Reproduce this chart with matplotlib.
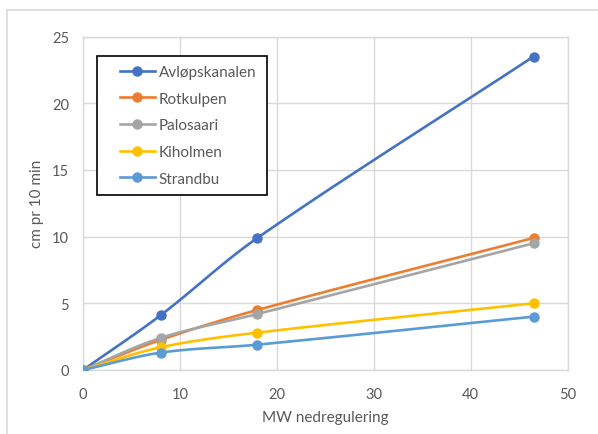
import numpy as np
import matplotlib
matplotlib.use("Agg")
from matplotlib import pyplot as plt
from matplotlib.lines import Line2D
from matplotlib.legend_handler import HandlerLine2D

# data
mw = [0, 8, 18, 46.5]
avlopskanalen = [0, 4.1, 9.9, 23.5]
rotkulpen = [0, 2.25, 4.5, 9.9]
palosaari = [0, 2.4, 4.2, 9.5]
kiholmen = [0, 1.7, 2.8, 5.0]
strandbu = [0, 1.3, 1.9, 4.0]

names = ['Avløpskanalen', 'Rotkulpen', 'Palosaari', 'Kiholmen', 'Strandbu']
series = [avlopskanalen, rotkulpen, palosaari, kiholmen, strandbu]
colors = ['#4472C4', '#ED7D31', '#A5A5A5', '#FFC000', '#5B9BD5']


def smooth(x, y, n=40, kx=9.7, ky=13.36):
    # bezier through the points, tangents from neighbours, done in pixel-ish units
    P = np.column_stack([np.asarray(x, float) * kx, np.asarray(y, float) * ky])
    m = len(P)
    T = np.zeros_like(P)
    for i in range(m):
        a = P[max(i - 1, 0)]
        b = P[min(i + 1, m - 1)]
        d = b - a
        T[i] = d / np.hypot(*d)
    t = np.linspace(0, 1, n)[:, None]
    out = []
    for i in range(m - 1):
        p0, p3 = P[i], P[i + 1]
        L = np.hypot(*(p3 - p0)) / 3
        p1 = p0 + T[i] * L
        p2 = p3 - T[i + 1] * L
        b = (1 - t) ** 3 * p0 + 3 * (1 - t) ** 2 * t * p1 + 3 * (1 - t) * t ** 2 * p2 + t ** 3 * p3
        out.append(b)
    out = np.vstack(out)
    return out[:, 0] / kx, out[:, 1] / ky


class ShiftedLine(HandlerLine2D):
    # push the legend sample to the right inside its slot
    shift = 10.0

    def create_artists(self, legend, orig_handle, xdescent, ydescent, width, height, fontsize, trans):
        return super().create_artists(legend, orig_handle, xdescent - self.shift, ydescent,
                                      width - self.shift, height, fontsize, trans)


plt.rcParams['font.family'] = ['Lato', 'DejaVu Sans']
txt = '#595959'
grid = '#D9D9D9'

fig = plt.figure(figsize=(5.98, 4.35), dpi=100)
ax = fig.add_axes([83 / 598, 1 - 371 / 435, (567.5 - 83) / 598, (371 - 37.5) / 435])

for name, vals, c in zip(names, series, colors):
    sx, sy = smooth(mw, vals)
    ax.plot(sx, sy, color=c, lw=1.9, solid_capstyle='round', zorder=3)
    ax.plot(mw, vals, 'o', color=c, ms=6.5, zorder=4)

ax.set_xlim(0, 50)
ax.set_ylim(0, 25)
ax.set_xticks(np.arange(0, 51, 10))
ax.set_yticks(np.arange(0, 26, 5))
ax.grid(True, color=grid, lw=1)
ax.set_axisbelow(True)
for s in ax.spines.values():
    s.set_color(grid)
    s.set_linewidth(1)
ax.tick_params(length=0, colors=txt, labelsize=10.5, pad=12)
ax.tick_params(axis='y', pad=10)
ax.set_xlabel('MW nedregulering', color=txt, fontsize=11, labelpad=7)
ax.set_ylabel('cm pr 10 min', color=txt, fontsize=11, labelpad=6)

handles = [Line2D([], [], color=c, lw=1.9, marker='o', ms=6.5) for c in colors]
leg = ax.legend(handles, names, loc='upper left',
                bbox_to_anchor=(96.7 / 598, 1 - 56.7 / 435, 170 / 598, 0),
                bbox_transform=fig.transFigure, mode='expand',
                handler_map={Line2D: ShiftedLine()},
                fancybox=False, framealpha=1, edgecolor='black',
                fontsize=11, labelspacing=0.83, handlelength=3.2,
                handletextpad=0.26, borderpad=0.6, borderaxespad=0)
leg.get_frame().set_linewidth(1.2)
for t in leg.get_texts():
    t.set_color(txt)

# outer chart frame (cropped on right and bottom)
fig.add_artist(Line2D([7 / 598, 7 / 598], [0, 1 - 11 / 435], color=grid, lw=1.2, transform=fig.transFigure))
fig.add_artist(Line2D([7 / 598, 1], [1 - 11 / 435, 1 - 11 / 435], color=grid, lw=1.2, transform=fig.transFigure))

fig.savefig('out.png', dpi=100)
